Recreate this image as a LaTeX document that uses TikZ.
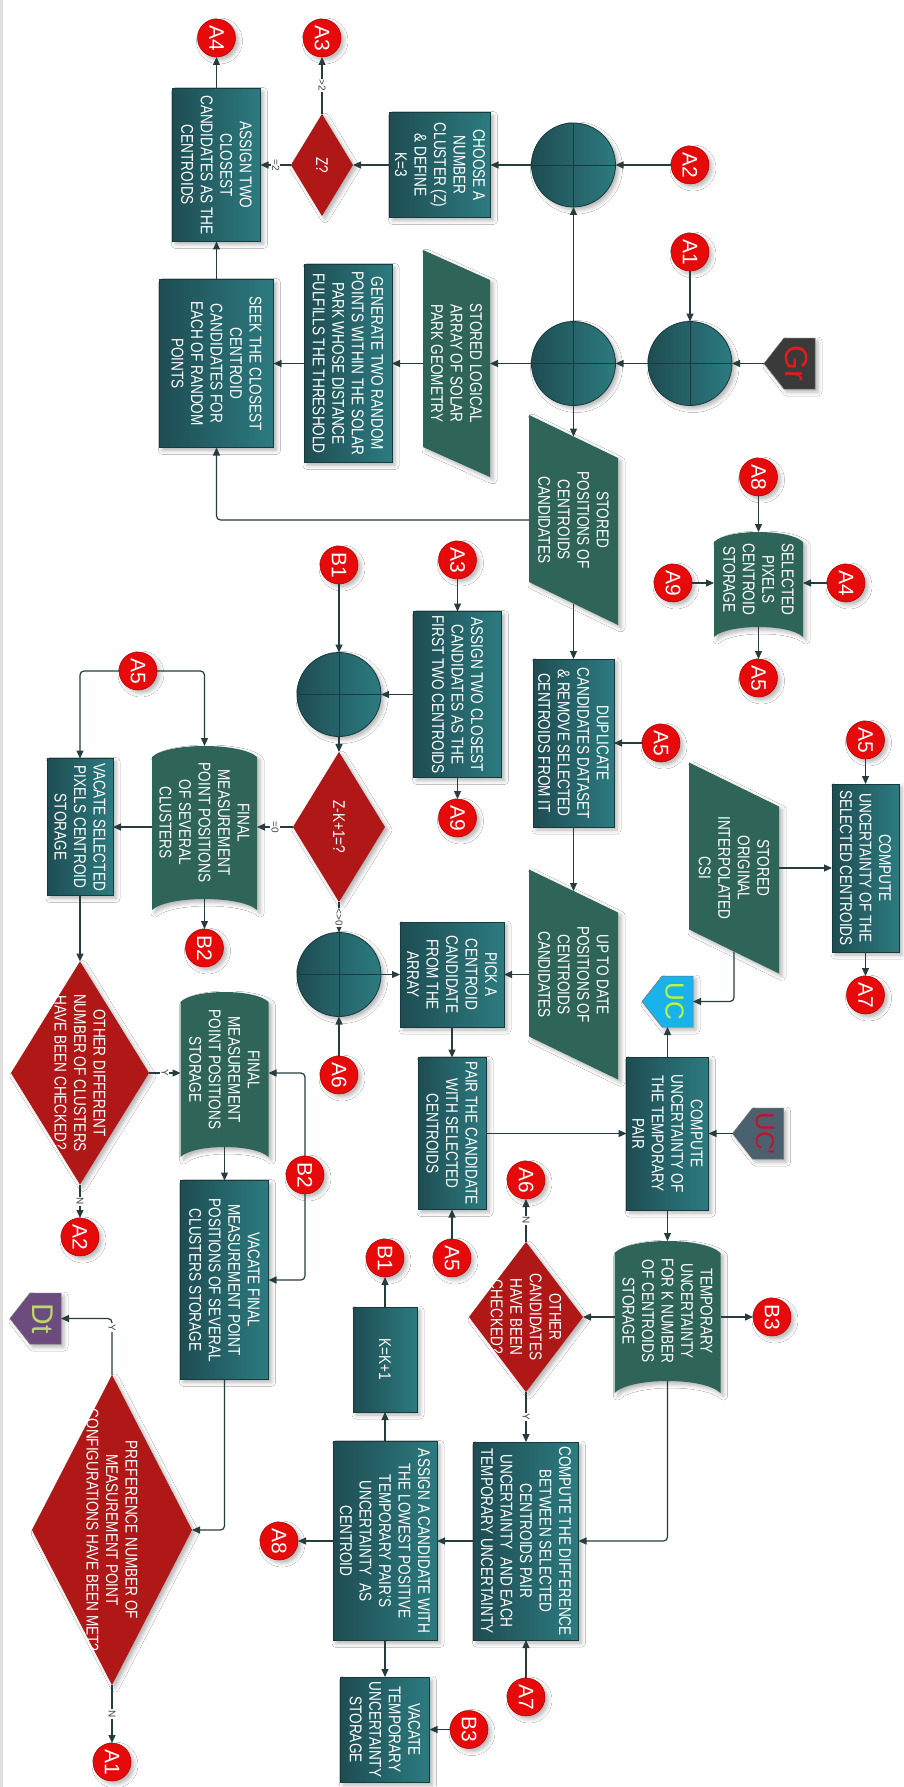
\documentclass[tikz,border=0pt]{standalone}
\usepackage{fontspec}
\setmainfont{Liberation Sans}[FakeStretch=0.8]
\newfontfamily\plainsans{Liberation Sans}
\usetikzlibrary{shapes.geometric, arrows.meta, shadows.blur}

\definecolor{procdark}{HTML}{1E4D53}
\definecolor{proclight}{HTML}{2C7B80}
\definecolor{procline}{HTML}{173A3D}
\definecolor{datafill}{HTML}{2F6558}
\definecolor{decfill}{HTML}{B01818}
\definecolor{lred}{HTML}{E60A0A}
\definecolor{lredline}{HTML}{B00000}
\definecolor{wirecol}{HTML}{263C3F}
\definecolor{grfill}{HTML}{3A3A3A}
\definecolor{grtext}{HTML}{E31B1B}
\definecolor{ucfill}{HTML}{19B2EA}
\definecolor{uctext}{HTML}{BDF53A}
\definecolor{ucpfill}{HTML}{4C616F}
\definecolor{ucptext}{HTML}{C3122B}
\definecolor{dtfill}{HTML}{6C4B7E}
\definecolor{dttext}{HTML}{BBD66B}

\tikzset{
  soft/.style={blur shadow={shadow xshift=3pt, shadow yshift=-3pt,
    shadow blur radius=4pt, shadow opacity=30}},
  txt/.style={inner sep=0pt, outer sep=0pt, align=center, text=white,
    font=\fontsize{17}{19.5}\selectfont},
  proc/.style={txt, rectangle, soft, draw=procline, line width=0.8pt,
    left color=procdark, right color=proclight},
  area/.style={txt, rectangle},
  decision/.style={diamond, soft, inner sep=0pt, outer sep=0pt, fill=decfill},
  junction/.style={circle, soft, inner sep=0pt, outer sep=0pt, minimum size=84pt,
    draw=procline, line width=0.8pt, left color=procdark, right color=proclight,
    path picture={\draw[procline, line width=0.8pt]
      (path picture bounding box.north) -- (path picture bounding box.south)
      (path picture bounding box.west) -- (path picture bounding box.east);}},
  ref/.style={circle, soft, inner sep=0pt, outer sep=0pt, minimum size=38pt,
    fill=lred, draw=lredline, line width=0.5pt, text=white,
    font=\plainsans\fontsize{21}{21}\selectfont},
  arr/.style={draw=wirecol, line width=1.2pt, -{Triangle[length=8pt,width=7pt]}},
  tag/.style={fill=white, inner sep=1pt, text=black!75,
    font=\plainsans\fontsize{10}{10}\selectfont},
}

% parallelogram data symbol: name, centre row, centre column, side length, width, skew, text
\newcommand\dataio[7]{%
  \fill[datafill, soft] ({#2-#4/2-#6/2},{#3-#5/2}) -- ({#2+#4/2-#6/2},{#3-#5/2})
    -- ({#2+#4/2+#6/2},{#3+#5/2}) -- ({#2-#4/2+#6/2},{#3+#5/2}) -- cycle;
  \node[area, minimum width=#4pt, minimum height=#5pt] (#1) at (#2,#3) {#7};}

% stored-data symbol: name, centre row, centre column, side length, width, bulge, text
\newcommand\storedata[7]{%
  \fill[datafill, soft] ({#2-#4/2},{#3-#5/2})
    .. controls ({#2-#4/2-4*#6/3},{#3-#5/2+0.15*#5}) and ({#2-#4/2-4*#6/3},{#3+#5/2-0.15*#5}) .. ({#2-#4/2},{#3+#5/2})
    -- ({#2+#4/2},{#3+#5/2})
    .. controls ({#2+#4/2-4*#6/3},{#3+#5/2-0.15*#5}) and ({#2+#4/2-4*#6/3},{#3-#5/2+0.15*#5}) .. ({#2+#4/2},{#3-#5/2})
    -- cycle;
  \node[area, minimum width=#4pt, minimum height=#5pt] (#1) at ({#2-#6},#3) {#7};}

% off-page connector: name, row, column, fill, text colour, text, font size
\newcommand\offpage[7]{%
  \node[minimum width=51pt, minimum height=51pt, inner sep=0pt, outer sep=0pt] (#1) at (#2,#3) {};
  \filldraw[fill=#4, draw=black!55, line width=0.5pt, soft] (#2,{#3-25.5}) -- ({#2-25.5},{#3-5.5})
    -- ({#2-25.5},{#3+25.5}) -- ({#2+25.5},{#3+25.5}) -- ({#2+25.5},{#3-5.5}) -- cycle;
  \node[text=#5, font=\plainsans\fontsize{#7}{#7}\selectfont, inner sep=0pt] (#1-t) at (#2,{#3+7}) {#6};}

\begin{document}
\begin{tikzpicture}[x=1pt, y=1pt, rotate=-90, transform shape]
\fill[white] (0,0) rectangle (1787,903);
\useasboundingbox (0,0) rectangle (1787,903);
\fill[black!12] (0,0) rectangle (1787,2.5);

% junctions
\node[junction] (j1) at (165,573.5) {};
\node[junction] (j2) at (363.5,573.5) {};
\node[junction] (j3) at (363.5,690) {};
\node[junction] (j4) at (694.5,339) {};
\node[junction] (j5) at (974.5,339) {};

% off-page connectors
\offpage{gr}{363.5}{789.5}{grfill}{grtext}{Gr}{32}
\offpage{uc}{1001.5}{667.5}{ucfill}{uctext}{UC}{26}
\offpage{ucp}{1133.5}{758}{ucpfill}{ucptext}{UC'}{26}
\offpage{dt}{1318.5}{35.5}{dtfill}{dttext}{Dt}{30}

% process steps
\node[proc, minimum width=153pt, minimum height=88pt] (assignA) at (165,216.5) {ASSIGN TWO\\CLOSEST\\CANDIDATES AS THE\\CENTROIDS};
\node[proc, minimum width=105pt, minimum height=101pt] (choose) at (165,440) {CHOOSE A\\NUMBER\\CLUSTER (Z)\\\& DEFINE\\K=3};
\node[proc, minimum width=168pt, minimum height=114pt] (seek) at (363.5,216.5) {SEEK THE CLOSEST\\CENTROID\\CANDIDATES FOR\\EACH OF RANDOM\\POINTS};
\node[proc, minimum width=198pt, minimum height=88pt] (gen) at (363.5,348) {GENERATE TWO RANDOM\\POINTS WITHIN THE SOLAR\\PARK WHOSE DISTANCE\\FULFILLS THE THRESHOLD};
\node[proc, minimum width=168pt, minimum height=81pt] (dup) at (743,573.5) {DUPLICATE\\CANDIDATES DATASET\\\& REMOVE SELECTED\\CENTROIDS FROM IT};
\node[proc, minimum width=166pt, minimum height=88pt] (assignF) at (694.5,457.5) {ASSIGN TWO CLOSEST\\CANDIDATES AS THE\\FIRST TWO CENTROIDS};
\node[proc, minimum width=137pt, minimum height=66pt] (vacsel) at (827,80) {VACATE SELECTED\\PIXELS CENTROID\\STORAGE};
\node[proc, minimum width=105pt, minimum height=104pt] (pick) at (974.5,452) {PICK A\\CENTROID\\CANDIDATE\\FROM THE\\ARRAY};
\node[proc, minimum width=152pt, minimum height=68pt] (pair) at (1133.5,452) {PAIR THE CANDIDATE\\WITH SELECTED\\CENTROIDS};
\node[proc, minimum width=153pt, minimum height=82pt] (compunc) at (1133.5,667.5) {COMPUTE\\UNCERTAINTY OF\\THE TEMPORARY\\PAIR};
\node[proc, minimum width=168pt, minimum height=67pt] (compsel) at (868,865.5) {COMPUTE\\UNCERTAINTY OF THE\\SELECTED CENTROIDS};
\node[proc, minimum width=199pt, minimum height=88pt] (vacfin) at (1280,224.5) {VACATE FINAL\\MEASUREMENT POINT\\POSITIONS OF SEVERAL\\CLUSTERS STORAGE};
\node[proc, minimum width=105pt, minimum height=64pt] (kbox) at (1359.5,385) {K=K+1};
\node[proc, minimum width=198pt, minimum height=105pt] (compdiff) at (1541,526) {COMPUTE THE DIFFERENCE\\BETWEEN SELECTED\\CENTROIDS PAIR\\UNCERTAINTY~~AND EACH\\TEMPORARY UNCERTAINTY};
\node[proc, minimum width=199pt, minimum height=104pt] (assignC) at (1541,385) {ASSIGN A CANDIDATE WITH\\THE LOWEST POSITIVE\\TEMPORARY PAIR'S\\UNCERTAINTY~~AS\\CENTROID};
\node[proc, minimum width=105pt, minimum height=89pt] (vactemp) at (1729.5,385) {VACATE\\TEMPORARY\\UNCERTAINTY\\STORAGE};

% data
\dataio{slog}{363.5}{456.5}{197}{67}{30}{STORED LOGICAL\\ARRAY OF SOLAR\\PARK GEOMETRY}
\dataio{spos}{520}{573.5}{167}{89}{43}{STORED\\POSITIONS OF\\CENTROIDS\\CANDIDATES}
\dataio{utd}{974.5}{573.5}{167}{89}{43}{UP TO DATE\\POSITIONS OF\\CENTROIDS\\CANDIDATES}
\dataio{sorig}{868}{734}{167}{90}{44}{STORED\\ORIGINAL\\INTERPOLATED\\CSI}

% stored data
\storedata{selpix}{589.5}{758.5}{95}{89}{10}{SELECTED\\PIXELS\\CENTROID\\STORAGE}
\storedata{fsev}{833.5}{204.5}{153}{105}{11}{FINAL\\MEASUREMENT\\POINT POSITIONS\\OF SEVERAL\\CLUSTERS}
\storedata{fstor}{1079.5}{224.5}{155}{88}{10}{FINAL\\MEASUREMENT\\POINT POSITIONS\\STORAGE}
\storedata{tunc}{1323}{667.5}{140}{106}{12}{TEMPORARY\\UNCERTAINTY\\FOR K NUMBER\\OF CENTROIDS\\STORAGE}

% decisions
\node[decision, minimum width=102pt, minimum height=62pt] (zq) at (165,322) {};
\node[txt] (zq-t) at (zq) {Z?};
\node[decision, minimum width=150pt, minimum height=92pt] (zk) at (827,339) {};
\node[txt] (zk-t) at (zk) {Z-K+1=?};
\node[decision, minimum width=223pt, minimum height=138pt] (odiff) at (1073,80) {};
\node[txt] (odiff-t) at (odiff) {OTHER DIFFERENT\\NUMBER OF CLUSTERS\\HAVE BEEN CHECKED?};
\node[decision, minimum width=150pt, minimum height=114pt] (ocand) at (1317,526) {};
\node[txt] (ocand-t) at (ocand) {OTHER\\CANDIDATES\\HAVE BEEN\\CHECKED?};
\node[decision, minimum width=310pt, minimum height=160pt] (pref) at (1530,112) {};
\node[txt] (pref-t) at (pref) {PREFERENCE NUMBER OF\\MEASUREMENT POINT\\CONFIGURATIONS HAVE BEEN MET?};

% on-page references
\node[ref] (a4top) at (38,216.5) {A4};
\node[ref] (a3top) at (38,322) {A3};
\node[ref] (a2r) at (165,690) {A2};
\node[ref] (a1r) at (252,690) {A1};
\node[ref] (a8s) at (477,758.5) {A8};
\node[ref] (a9s) at (583,673) {A9};
\node[ref] (a4s) at (583,846) {A4};
\node[ref] (a5s) at (678,758.5) {A5};
\node[ref] (a3m) at (560,457.5) {A3};
\node[ref] (b1m) at (565,339) {B1};
\node[ref] (a9m) at (818,457.5) {A9};
\node[ref] (a5d) at (743,661) {A5};
\node[ref] (a5c) at (740,865.5) {A5};
\node[ref] (a7c) at (995,865.5) {A7};
\node[ref] (a5f) at (671,138) {A5};
\node[ref] (b2f) at (948,204.5) {B2};
\node[ref] (a6p) at (1075,339) {A6};
\node[ref] (a6n) at (1180,526) {A6};
\node[ref] (a5p) at (1258,452) {A5};
\node[ref] (b2s) at (1175,305) {B2};
\node[ref] (a2b) at (1237,80) {A2};
\node[ref] (b1k) at (1258,385) {B1};
\node[ref] (b3t) at (1317,772) {B3};
\node[ref] (a8a) at (1541,279) {A8};
\node[ref] (a7d) at (1697,526) {A7};
\node[ref] (b3v) at (1729.5,469) {B3};
\node[ref] (a1b) at (1762,112) {A1};

% flow (the picture frame is turned, so |- runs across the page first)
\draw[arr] (assignA) -- (a4top);
\draw[arr] (zq) -- node[tag]{>2} (a3top);
\draw[arr] (zq) -- node[tag]{=2} (assignA);
\draw[arr] (choose) -- (zq);
\draw[arr] (j1) -- (choose);
\draw[arr] (a2r) -- (j1);
\draw[arr] (j2) -- (j1);
\draw[arr] (a1r) -- (j3);
\draw[arr] (gr) -- (j3);
\draw[arr] (j3) -- (j2);
\draw[arr] (j2) -- (slog);
\draw[arr] (j2) -- (spos);
\draw[arr] (slog) -- (gen);
\draw[arr] (gen) -- (seek);
\draw[arr] (seek) -- (assignA);
\draw[arr, rounded corners=4pt] (spos) |- (seek);
\draw[arr] (spos) -- (dup);
\draw[arr] (a5d) -- (dup);
\draw[arr] (dup) -- (utd);
\draw[arr] (utd) -- (pick);
\draw[arr] (j5) -- (pick);
\draw[arr] (a6p) -- (j5);
\draw[arr] (zk) -- node[tag]{<>0} (j5);
\draw[arr] (pick) -- (pair);
\draw[arr] (pair) -- (compunc);
\draw[arr] (a5p) -- (pair);
\draw[arr] (ucp) -- (compunc);
\draw[arr] (compunc) -- (uc);
\draw[arr, rounded corners=4pt] (sorig) -| (uc);
\draw[arr] (sorig) -- (compsel);
\draw[arr] (a5c) -- (compsel);
\draw[arr] (compsel) -- (a7c);
\draw[arr] (a8s) -- (selpix);
\draw[arr] (a9s) -- (a9s |- selpix.south);
\draw[arr] (a4s) -- (a4s |- selpix.north);
\draw[arr] (selpix) -- (a5s);
\draw[arr] (a3m) -- (assignF);
\draw[arr] (assignF) -- (a9m);
\draw[arr] (assignF) -- (j4);
\draw[arr] (b1m) -- (j4);
\draw[arr] (j4) -- (zk);
\draw[arr] (zk) -- node[tag]{=0} (zk |- fsev.north);
\draw[arr, rounded corners=4pt] (a5f) |- (fsev);
\draw[arr, rounded corners=4pt] (a5f) |- (vacsel);
\draw[arr] (vacsel |- fsev.south) -- (vacsel);
\draw[arr] (fsev) -- (b2f);
\draw[arr] (vacsel) -- (odiff);
\draw[arr] (odiff) -- node[tag]{Y} (odiff |- fstor.south);
\draw[arr] (odiff) -- node[tag]{N} (a2b);
\draw[arr, rounded corners=4pt] (b2s) -| (odiff |- fstor.north);
\draw[arr, rounded corners=4pt] (b2s) -| (vacfin);
\draw[arr] (fstor) -- (vacfin);
\draw[arr, rounded corners=4pt] (vacfin) -| (pref);
\draw[arr, rounded corners=4pt] (pref) -| node[tag, pos=0.42]{Y} (dt);
\draw[arr] (pref) -- node[tag]{N} (a1b);
\draw[arr] (compunc) -- (tunc);
\draw[arr] (b3t |- tunc.north) -- (b3t);
\draw[arr] (ocand |- tunc.south) -- (ocand);
\draw[arr] (ocand) -- node[tag]{N} (a6n);
\draw[arr] (ocand) -- node[tag]{Y} (compdiff);
\draw[arr, rounded corners=4pt] (tunc) -| (compdiff);
\draw[arr] (a7d) -- (compdiff);
\draw[arr] (compdiff) -- (assignC);
\draw[arr] (assignC) -- (a8a);
\draw[arr] (assignC) -- (kbox);
\draw[arr] (kbox) -- (b1k);
\draw[arr] (assignC) -- (vactemp);
\draw[arr] (b3v) -- (vactemp);
\end{tikzpicture}
\end{document}
